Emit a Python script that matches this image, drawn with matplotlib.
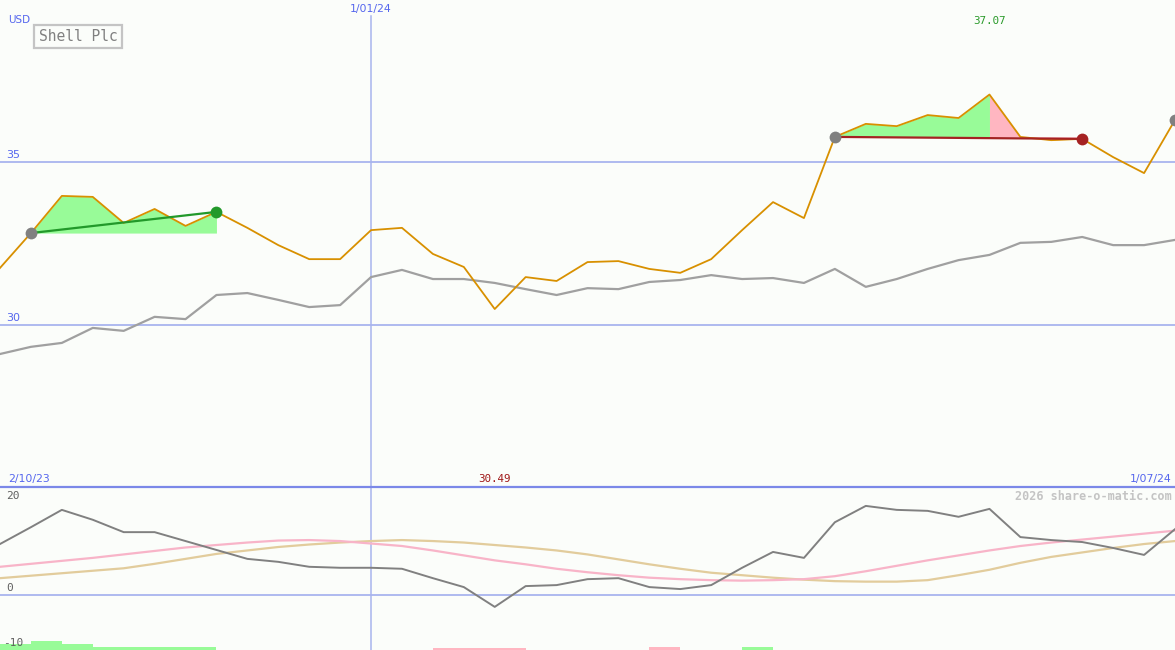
import matplotlib
matplotlib.use('Agg')
import matplotlib.pyplot as plt
from matplotlib.lines import Line2D
import pandas as pd

# ---------------- data ----------------
dates = pd.date_range('2023-10-09', '2024-07-01', freq='7D')
range_start_label = '2/10/23'
range_end_label = '1/07/24'

price = [31.75, 32.82, 33.96, 33.93, 33.13, 33.56, 33.04, 33.47, 32.98, 32.45,
         32.02, 32.02, 32.91, 32.98, 32.18, 31.78, 30.49, 31.47, 31.35, 31.93,
         31.96, 31.72, 31.60, 32.02, 32.91, 33.77, 33.28, 35.77, 36.17, 36.10,
         36.44, 36.35, 37.07, 35.77, 35.67, 35.71, 35.15, 34.66, 36.29]

index_line = [29.11, 29.33, 29.45, 29.91, 29.82, 30.25, 30.18, 30.92, 30.98, 30.77,
              30.55, 30.61, 31.47, 31.69, 31.41, 31.41, 31.29, 31.10, 30.92, 31.13,
              31.10, 31.32, 31.38, 31.53, 31.41, 31.44, 31.29, 31.72, 31.17, 31.41,
              31.72, 31.99, 32.15, 32.52, 32.55, 32.70, 32.45, 32.45, 32.61]

osc = [10.3, 13.7, 17.2, 15.2, 12.7, 12.7, 10.9, 9.1, 7.3, 6.7,
       5.7, 5.5, 5.5, 5.3, 3.4, 1.6, -2.4, 1.8, 2.0, 3.2,
       3.4, 1.6, 1.2, 2.0, 5.5, 8.7, 7.5, 14.7, 18.0, 17.2,
       17.0, 15.8, 17.4, 11.7, 11.1, 10.7, 9.5, 8.1, 13.3]

osc_pink = [5.7, 6.3, 6.9, 7.5, 8.2, 8.9, 9.6, 10.1, 10.6, 11.0,
            11.1, 10.9, 10.4, 9.9, 9.0, 8.0, 7.0, 6.2, 5.3, 4.6,
            4.0, 3.5, 3.2, 3.0, 2.9, 3.0, 3.2, 3.8, 4.8, 5.9,
            7.0, 8.0, 9.0, 9.9, 10.6, 11.2, 11.8, 12.4, 13.0]

osc_tan = [3.4, 3.9, 4.4, 4.9, 5.4, 6.3, 7.3, 8.3, 9.0, 9.7,
           10.2, 10.6, 10.9, 11.1, 10.9, 10.6, 10.1, 9.6, 9.0, 8.2,
           7.2, 6.2, 5.3, 4.5, 4.0, 3.5, 3.1, 2.8, 2.7, 2.7,
           3.0, 4.0, 5.1, 6.5, 7.7, 8.6, 9.5, 10.3, 10.9]

# weekly signal bars (positive = green, negative = pink), one per week interval
signal = [1.2, 1.8, 1.2, 0.6, 0.6, 0.6, 0.6, 0, 0, 0,
          0, 0, 0, 0, -0.5, -0.5, -0.5, 0, 0, 0,
          0, -0.6, 0, 0, 0.6, 0, 0, 0, 0, 0,
          0, 0, 0, 0, 0, 0, 0, 0]

title = 'Shell Plc'
currency = 'USD'
marker_date = '2024-01-01'
marker_label = '1/01/24'
up_start, up_end = '2023-10-16', '2023-11-27'
dn_start, dn_peak, dn_end = '2024-04-15', '2024-05-20', '2024-06-10'
last_date = '2024-07-01'

# ---------------- style ----------------
BG = '#fbfdfa'
GRID = '#a8b4ee'
SEP = '#7b88e8'
BLUE_TXT = '#5566ee'
ORANGE = '#d89000'
GRAY_IDX = '#a0a0a0'
OSC = '#808080'
PINK = '#f8b4c8'
TAN = '#e2cc9c'
GREEN_FILL = '#98fb98'
PINK_FILL = '#ffb6c1'
GREEN_LINE = '#22992a'
RED_LINE = '#a52222'

W, H = 1175, 650
fig = plt.figure(figsize=(W / 100, H / 100), dpi=100, facecolor=BG)
sep_px = 487
ax1 = fig.add_axes([0, (H - sep_px) / H, 1, sep_px / H], facecolor=BG)
ax2 = fig.add_axes([0, 0, 1, (H - sep_px) / H], facecolor=BG)

for ax in (ax1, ax2):
    for s in ax.spines.values():
        s.set_visible(False)
    ax.set_xticks([])
    ax.set_yticks([])
    ax.set_xlim(dates[0], dates[-1])

ax1.set_ylim(25.03, 39.97)
ax2.set_ylim(-11.11, 21.82)

d = pd.to_datetime
s = pd.Series(price, index=dates)

# ---- top panel ----
for lvl in (35, 30):
    ax1.axhline(lvl, color=GRID, lw=1.3, zorder=1)
    ax1.text(0.005, lvl + 0.07, str(lvl), transform=ax1.get_yaxis_transform(),
             color=BLUE_TXT, fontsize=8, va='bottom', ha='left')
ax1.axvline(d(marker_date), ymin=0, ymax=(sep_px - 16) / sep_px, color=GRID, lw=1.1, zorder=1)

# shaded trend regions
r1 = s[up_start:up_end]
ax1.fill_between(r1.index, r1.values, r1.iloc[0], color=GREEN_FILL, lw=0, zorder=2)
r2 = s[dn_start:dn_peak]
ax1.fill_between(r2.index, r2.values, s[dn_start], color=GREEN_FILL, lw=0, zorder=2)
r3 = s[dn_peak:dn_end]
ax1.fill_between(r3.index, r3.values, s[dn_start], color=PINK_FILL, lw=0, zorder=2)

ax1.plot(dates, index_line, color=GRAY_IDX, lw=1.6, zorder=3)
ax1.plot(dates, price, color=ORANGE, lw=1.3, zorder=4)

ax1.plot([d(up_start), d(up_end)], [s[up_start], s[up_end]], color=GREEN_LINE, lw=1.6, zorder=5)
ax1.plot([d(dn_start), d(dn_end)], [s[dn_start], s[dn_end]], color=RED_LINE, lw=1.6, zorder=5)

ms = 8.5
for dt, col in ((up_start, '#808080'), (dn_start, '#808080'), (last_date, '#808080'),
                (up_end, GREEN_LINE), (dn_end, RED_LINE)):
    ax1.plot([d(dt)], [s[dt]], 'o', color=col, ms=ms, mec='none', zorder=6, clip_on=False)

# labels
fig.text(8 / W, 1 - 20 / H, currency, color=BLUE_TXT, fontsize=7.5, va='center', ha='left')
fig.text(78 / W, 1 - 36.5 / H, title, color='#808080', fontsize=10.5, va='center', ha='center',
         family='DejaVu Sans Mono',
         bbox=dict(boxstyle='square,pad=0.3', fc=BG, ec='#c4c4c4', lw=1.6))
ax1.text(d(marker_date), 1 - 9 / sep_px, marker_label, transform=ax1.get_xaxis_transform(),
         color=BLUE_TXT, fontsize=7.8, va='center', ha='center')
imax = price.index(max(price))
imin = price.index(min(price))
ax1.text(dates[imax], 1 - 21 / sep_px, f'{max(price):.2f}', transform=ax1.get_xaxis_transform(),
         color='#2a9a2a', fontsize=7.8, va='center', ha='center', family='DejaVu Sans Mono')
ax1.text(dates[imin], 8 / sep_px, f'{min(price):.2f}', transform=ax1.get_xaxis_transform(),
         color='#a01818', fontsize=7.8, va='center', ha='center', family='DejaVu Sans Mono')
ax1.text(0.007, 8 / sep_px, range_start_label, transform=ax1.transAxes,
         color=BLUE_TXT, fontsize=7.8, va='center', ha='left')
ax1.text(0.997, 8 / sep_px, range_end_label, transform=ax1.transAxes,
         color=BLUE_TXT, fontsize=7.8, va='center', ha='right')

# ---- bottom panel ----
ax2.axhline(0, color=GRID, lw=1.3, zorder=1)
ax2.axvline(d(marker_date), color=GRID, lw=1.1, zorder=1)
ybot = ax2.get_ylim()[0]
bar_cols = [GREEN_FILL if v > 0 else PINK_FILL for v in signal]
ax2.bar(dates[:-1], [abs(v) for v in signal], width=7, align='edge', bottom=ybot,
        color=bar_cols, lw=0, zorder=2)
ax2.plot(dates, osc_tan, color=TAN, lw=1.6, zorder=3)
ax2.plot(dates, osc_pink, color=PINK, lw=1.6, zorder=3)
ax2.plot(dates, osc, color=OSC, lw=1.4, zorder=4)

lab = '#606060'
ax2.text(0.005, 20, '20', transform=ax2.get_yaxis_transform(), color=lab, fontsize=8,
         va='center', ha='left', family='DejaVu Sans Mono')
ax2.text(0.005, 0.5, '0', transform=ax2.get_yaxis_transform(), color=lab, fontsize=8,
         va='bottom', ha='left', family='DejaVu Sans Mono')
ax2.text(0.003, -9.6, '-10', transform=ax2.get_yaxis_transform(), color=lab, fontsize=8,
         va='center', ha='left', family='DejaVu Sans Mono')
fig.text(1172 / W, 1 - 496 / H, '2026 share-o-matic.com', color='#c4c4c4', fontsize=8.5,
         fontweight='bold', family='DejaVu Sans Mono', va='center', ha='right')

fig.add_artist(Line2D([0, 1], [(H - sep_px) / H] * 2, transform=fig.transFigure,
                      color=SEP, lw=1.6, zorder=10))

fig.savefig('out.png', dpi=100, facecolor=BG)
